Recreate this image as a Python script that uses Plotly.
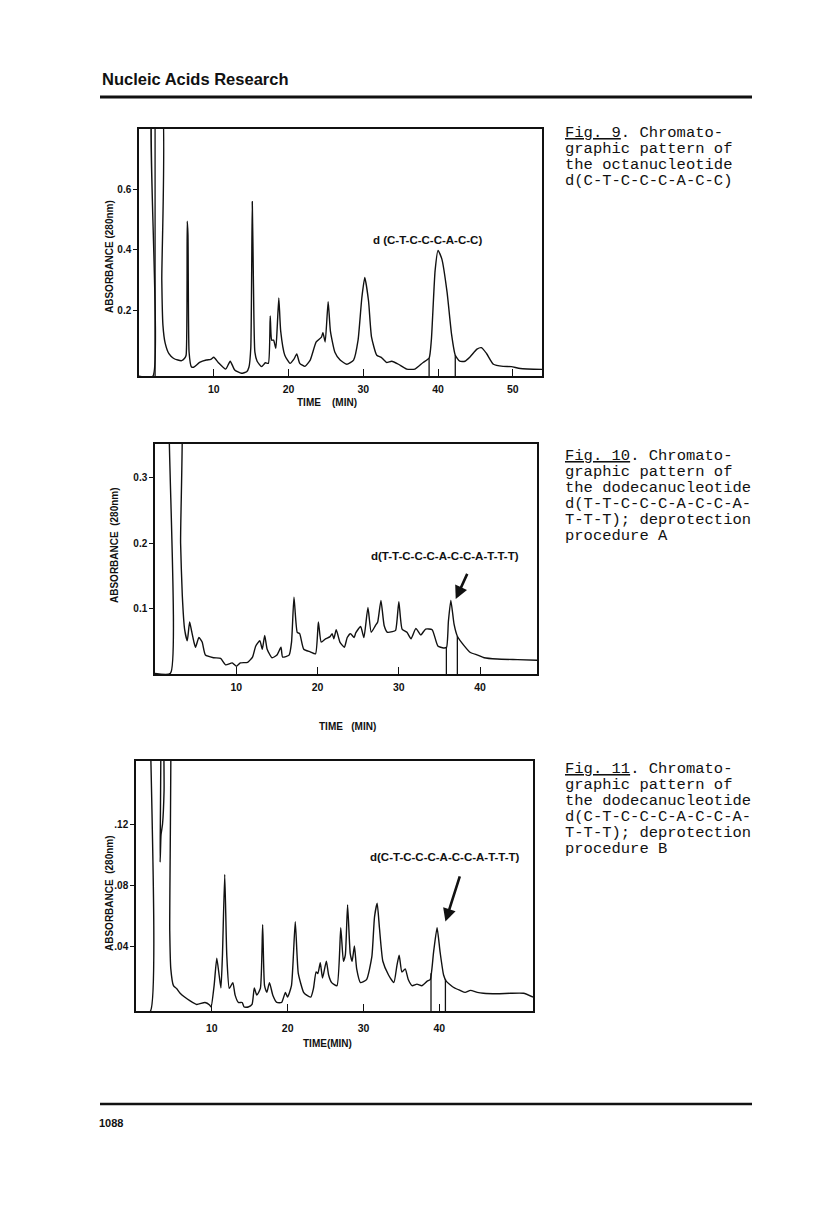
import numpy as np
import plotly.graph_objects as go

W, H = 816, 1208

# ---- data: (time in min, absorbance at 280 nm) ----
fig9_trace = [
    (0, -0.02), (1.85, -0.02), (1.85, 0.9), (3.0, 0.9), (3.05, 0.3), (3.2, 0.15), (3.5, 0.09),
    (4.0, 0.055), (4.6, 0.04), (5.2, 0.034), (5.7, 0.032), (6.1, 0.04), (6.3, 0.05), (6.45, 0.495),
    (6.55, 0.45), (6.7, 0.06), (7.0, 0.012), (7.3, 0.01), (8.1, 0.026), (9.0, 0.034), (9.6, 0.036),
    (10.0, 0.043), (10.6, 0.026), (11.6, 0.004), (12.2, 0.03), (12.8, 0.001), (13.7, -0.01),
    (14.4, -0.005), (14.7, 0.01), (14.95, 0.074), (15.15, 0.56), (15.3, 0.3), (15.5, 0.06),
    (15.8, 0.03), (16.4, 0.012), (16.9, 0.025), (17.3, 0.023), (17.55, 0.18), (17.75, 0.10),
    (18.0, 0.10), (18.3, 0.073), (18.5, 0.15), (18.7, 0.24), (18.95, 0.13), (19.5, 0.05),
    (20.2, 0.023), (20.7, 0.036), (21.1, 0.054), (21.5, 0.023), (22.2, 0.013), (22.9, 0.034),
    (23.7, 0.094), (24.4, 0.11), (24.6, 0.125), (24.9, 0.094), (25.3, 0.228), (25.6, 0.13),
    (26.2, 0.06), (26.9, 0.034), (27.8, 0.02), (28.7, 0.034), (29.3, 0.1), (29.8, 0.24),
    (30.2, 0.308), (30.7, 0.23), (31.1, 0.11), (31.8, 0.05), (32.4, 0.043), (33.1, 0.026),
    (33.8, 0.03), (34.7, 0.02), (35.8, 0.004), (36.9, 0.004), (38.0, 0.026), (38.8, 0.04),
    (39.1, 0.1), (39.6, 0.33), (40.0, 0.398), (40.5, 0.37), (41.2, 0.26), (41.8, 0.12),
    (42.3, 0.05), (42.9, 0.03), (43.6, 0.03), (44.3, 0.045), (45.2, 0.07), (45.8, 0.075),
    (46.5, 0.055), (47.4, 0.02), (48.7, 0.013), (49.8, 0.012), (51.0, 0.006), (53.9, 0.003),
]
fig9_cuts = [38.8, 42.3]          # collected fraction
fig9_inject = [2.15]              # injection mark
fig9_xticks = [10, 20, 30, 40, 50]
fig9_yticks = [0.2, 0.4, 0.6]
fig9_yticktext = ["0.2", "0.4", "0.6"]

fig10_trace = [
    (0, 0.0), (1.9, 0.0), (1.9, 0.5), (3.07, 0.5), (3.15, 0.2), (3.36, 0.119), (3.64, 0.068),
    (3.97, 0.05), (4.26, 0.079), (4.5, 0.065), (4.79, 0.048), (4.99, 0.04), (5.4, 0.055),
    (5.8, 0.048), (6.2, 0.028), (7.2, 0.024), (8.07, 0.023), (8.7, 0.013), (9.5, 0.016),
    (10.0, 0.011), (10.5, 0.016), (11.4, 0.017), (12.0, 0.025), (12.4, 0.042), (12.9, 0.05),
    (13.2, 0.037), (13.5, 0.058), (13.8, 0.037), (14.4, 0.024), (15.0, 0.028), (15.5, 0.04),
    (15.7, 0.025), (16.5, 0.028), (16.8, 0.048), (17.1, 0.117), (17.5, 0.063), (17.8, 0.061),
    (18.3, 0.037), (19.1, 0.033), (19.75, 0.03), (20.1, 0.079), (20.45, 0.048), (20.98, 0.053),
    (21.5, 0.056), (21.8, 0.061), (22.0, 0.053), (22.3, 0.067), (22.75, 0.048), (23.3, 0.04),
    (23.65, 0.055), (24.05, 0.061), (24.5, 0.055), (24.7, 0.062), (25.3, 0.072), (25.7, 0.055),
    (26.2, 0.101), (26.6, 0.063), (27.1, 0.073), (27.4, 0.079), (27.8, 0.112), (28.2, 0.073),
    (28.6, 0.063), (29.2, 0.064), (29.6, 0.066), (30.0, 0.11), (30.4, 0.068), (31.0, 0.063),
    (31.5, 0.053), (32.1, 0.069), (32.7, 0.059), (33.3, 0.068), (34.1, 0.067), (34.8, 0.042),
    (35.5, 0.039), (35.87, 0.04), (36.1, 0.08), (36.4, 0.112), (36.8, 0.075), (37.2, 0.057),
    (38.0, 0.043), (38.8, 0.032), (39.7, 0.028), (40.5, 0.024), (42.1, 0.022), (44.6, 0.021),
    (47.0, 0.02),
]
fig10_cuts = [35.85, 37.2]
fig10_inject = []
fig10_xticks = [10, 20, 30, 40]
fig10_yticks = [0.1, 0.2, 0.3]
fig10_yticktext = ["0.1", "0.2", "0.3"]

fig11_trace = [
    (0, -0.003), (1.87, -0.003), (1.87, 0.3), (2.8, 0.3), (3.18, 0.095), (3.3, 0.113),
    (3.5, 0.12), (3.7, 0.142), (3.8, 0.3), (4.28, 0.3), (4.45, 0.05), (4.59, 0.025),
    (4.94, 0.014), (5.38, 0.012), (5.82, 0.009), (7.14, 0.004), (8.0, 0.0017), (9.1, 0.003),
    (9.7, 0.0014), (9.9, 0.0), (10.3, 0.014), (10.65, 0.032), (10.96, 0.021), (11.2, 0.0125),
    (11.4, 0.034), (11.7, 0.087), (11.97, 0.034), (12.3, 0.0122), (12.77, 0.016), (13.07, 0.0078),
    (13.5, 0.003), (14.0, 0.003), (14.26, 0.0), (14.8, 0.0), (15.3, 0.0017), (15.6, 0.0125),
    (15.93, 0.0078), (16.4, 0.0122), (16.7, 0.054), (16.95, 0.014), (17.25, 0.0096), (17.6, 0.016),
    (18.04, 0.0078), (18.57, 0.003), (19.2, 0.003), (19.7, 0.0096), (19.98, 0.0065), (20.5, 0.014),
    (21.0, 0.056), (21.4, 0.022), (22.1, 0.0096), (22.5, 0.0078), (23.05, 0.0065), (23.4, 0.0122),
    (23.75, 0.023), (23.98, 0.022), (24.3, 0.029), (24.6, 0.019), (25.1, 0.03), (25.4, 0.021),
    (25.8, 0.016), (26.5, 0.014), (27.0, 0.052), (27.35, 0.03), (27.6, 0.034), (27.9, 0.067),
    (28.25, 0.035), (28.5, 0.03), (28.8, 0.04), (29.1, 0.025), (29.6, 0.016), (30.4, 0.018),
    (31.1, 0.033), (31.45, 0.059), (31.8, 0.068), (32.1, 0.052), (32.55, 0.03), (33.3, 0.021),
    (34.0, 0.016), (34.4, 0.027), (34.7, 0.034), (35.06, 0.023), (35.5, 0.025), (35.9, 0.018),
    (36.4, 0.014), (37.05, 0.015), (37.7, 0.014), (38.4, 0.017), (38.8, 0.018), (39.24, 0.036),
    (39.7, 0.052), (40.1, 0.036), (40.56, 0.021), (40.9, 0.017), (41.9, 0.0128), (42.75, 0.0109),
    (43.4, 0.0096), (44.1, 0.0109), (45.0, 0.0096), (45.8, 0.009), (47.6, 0.0087), (49.35, 0.009),
    (51.1, 0.009), (52.35, 0.0065),
]
fig11_cuts = [38.9, 40.8]
fig11_inject = []
fig11_xticks = [10, 20, 30, 40]
fig11_yticks = [0.04, 0.08, 0.12]
fig11_yticktext = [".04", ".08", ".12"]

# caption texts (typewritten, right of each panel)
cap9 = ["<u>Fig. 9</u>. Chromato-", "graphic pattern of", "the octanucleotide",
        "d(C-T-C-C-C-A-C-C)"]
cap10 = ["<u>Fig. 10</u>. Chromato-", "graphic pattern of", "the dodecanucleotide",
         "d(T-T-C-C-C-A-C-C-A-", "T-T-T); deprotection", "procedure A"]
cap11 = ["<u>Fig. 11</u>. Chromato-", "graphic pattern of", "the dodecanucleotide",
         "d(C-T-C-C-C-A-C-C-A-", "T-T-T); deprotection", "procedure B"]

SANS = "Liberation Sans, Arial, sans-serif"
MONO = "Liberation Mono, Courier New, monospace"
INK = "#111"


def px(x):
    return x / W


def py(y):
    return 1 - y / H


def note(text, x, y, size, family=SANS, bold=True, xanchor="center", angle=0):
    # page-pixel placed text; anchors are explicit so "auto" never shifts it
    return dict(text=text, x=px(x), y=py(y), xref="paper", yref="paper", showarrow=False,
                xanchor=xanchor, yanchor="middle", textangle=angle,
                font=dict(family=family, size=size, color=INK,
                          weight="bold" if bold else "normal"))


# layout of each panel: plot box in page pixels, axis ranges, label placement
panels = [
    dict(trace=fig9_trace, cuts=fig9_cuts, inject=fig9_inject, xt=fig9_xticks, yt=fig9_yticks,
         ytt=fig9_yticktext, box=(139, 542, 129, 376), xr=[0, 53.9], yr=[-0.019, 0.801],
         label="d (C-T-C-C-C-A-C-C)", label_px=(427, 240), arrow=None,
         ytitle="ABSORBANCE (280nm)", ytitle_px=(110, 257),
         xtitle="TIME\u00a0\u00a0\u00a0\u00a0(MIN)", xtitle_px=(327, 402), standoff=3,
         caption=cap9, cap_y=133),
    dict(trace=fig10_trace, cuts=fig10_cuts, inject=fig10_inject, xt=fig10_xticks, yt=fig10_yticks,
         ytt=fig10_yticktext, box=(155, 537, 444, 674), xr=[0, 47.0], yr=[-0.001, 0.352],
         label="d(T-T-C-C-C-A-C-C-A-T-T-T)", label_px=(445, 556),
         arrow=((37.0, 0.114), (38.5, 0.155)),
         ytitle="ABSORBANCE\u00a0\u00a0(280nm)", ytitle_px=(114, 545),
         xtitle="TIME\u00a0\u00a0\u00a0(MIN)", xtitle_px=(347, 726), standoff=3,
         caption=cap10, cap_y=456),
    dict(trace=fig11_trace, cuts=fig11_cuts, inject=fig11_inject, xt=fig11_xticks, yt=fig11_yticks,
         ytt=fig11_yticktext, box=(136, 533, 761, 1011), xr=[0, 52.35], yr=[-0.0026, 0.1613],
         label="d(C-T-C-C-C-A-C-C-A-T-T-T)", label_px=(445, 857),
         arrow=((40.8, 0.056), (42.76, 0.0866)),
         ytitle="ABSORBANCE\u00a0\u00a0(280nm)", ytitle_px=(109, 893),
         xtitle="TIME(MIN)", xtitle_px=(327, 1043), standoff=7,
         caption=cap11, cap_y=769),
]

fig = go.Figure()
annotations = []
shapes = []

for i, p in enumerate(panels, start=1):
    sfx = "" if i == 1 else str(i)
    xa, ya = "x" + sfx, "y" + sfx
    t = np.array([a for a, _ in p["trace"]])
    a = np.array([b for _, b in p["trace"]])

    fig.add_trace(go.Scatter(x=t, y=a, mode="lines", xaxis=xa, yaxis=ya, showlegend=False,
                             line=dict(color=INK, width=1.4, shape="spline", smoothing=0.5),
                             hoverinfo="skip"))
    # fraction-collection cut lines, from the axis floor up to the trace
    for c in p["cuts"]:
        top = float(np.interp(c, t, a))
        fig.add_trace(go.Scatter(x=[c, c], y=[p["yr"][0], top], mode="lines", xaxis=xa, yaxis=ya,
                                 showlegend=False, line=dict(color=INK, width=1.3), hoverinfo="skip"))
    for c in p["inject"]:
        fig.add_trace(go.Scatter(x=[c, c], y=[p["yr"][0], p["yr"][1]], mode="lines", xaxis=xa,
                                 yaxis=ya, showlegend=False, line=dict(color=INK, width=1.3),
                                 hoverinfo="skip"))

    x0, x1, y0, y1 = p["box"]
    common = dict(showline=True, mirror=True, linecolor=INK, linewidth=1.5, showgrid=False,
                  zeroline=False, tickcolor=INK, tickwidth=1.3)
    fig.update_layout(**{
        "xaxis" + sfx: dict(domain=[px(x0), px(x1)], range=p["xr"], anchor=ya, tickmode="array",
                            tickvals=p["xt"], ticks="inside", ticklen=7,
                            ticklabelstandoff=p["standoff"],
                            tickfont=dict(family=SANS, size=10.5, color=INK, weight="bold"),
                            **common),
        "yaxis" + sfx: dict(domain=[py(y1), py(y0)], range=p["yr"], anchor=xa, tickmode="array",
                            tickvals=p["yt"], ticktext=p["ytt"], ticks="outside", ticklen=4,
                            tickfont=dict(family=SANS, size=10, color=INK, weight="bold"),
                            **common),
    })

    annotations.append(note(p["label"], *p["label_px"], 11.5))
    if p["arrow"]:
        (hx, hy), (tx, ty) = p["arrow"]
        annotations.append(dict(text="", x=hx, y=hy, ax=tx, ay=ty, xref=xa, yref=ya,
                                axref=xa, ayref=ya, showarrow=True, arrowhead=2,
                                arrowsize=1, arrowwidth=2.6, arrowcolor=INK))
    annotations.append(note(p["ytitle"], *p["ytitle_px"], 10, angle=-90))
    annotations.append(note(p["xtitle"], *p["xtitle_px"], 10))
    for k, line in enumerate(p["caption"]):
        annotations.append(note(line, 563, p["cap_y"] + 16 * k, 15.5, family=MONO, bold=False,
                                xanchor="left"))

# running head, rules and folio
annotations.append(note("Nucleic Acids Research", 100, 79, 16.5, xanchor="left"))
annotations.append(note("1088", 97, 1123, 11, xanchor="left"))
shapes.append(dict(type="line", xref="paper", yref="paper", x0=px(100), x1=px(752),
                   y0=py(97), y1=py(97), line=dict(color=INK, width=3)))
shapes.append(dict(type="line", xref="paper", yref="paper", x0=px(100), x1=px(752),
                   y0=py(1104), y1=py(1104), line=dict(color=INK, width=2.5)))

fig.update_layout(width=W, height=H, autosize=False, margin=dict(l=0, r=0, t=0, b=0),
                  paper_bgcolor="white", plot_bgcolor="white", showlegend=False,
                  annotations=annotations, shapes=shapes)

fig.write_html("out.html", config={"displayModeBar": False},
               post_script="document.body.style.margin='0';")
